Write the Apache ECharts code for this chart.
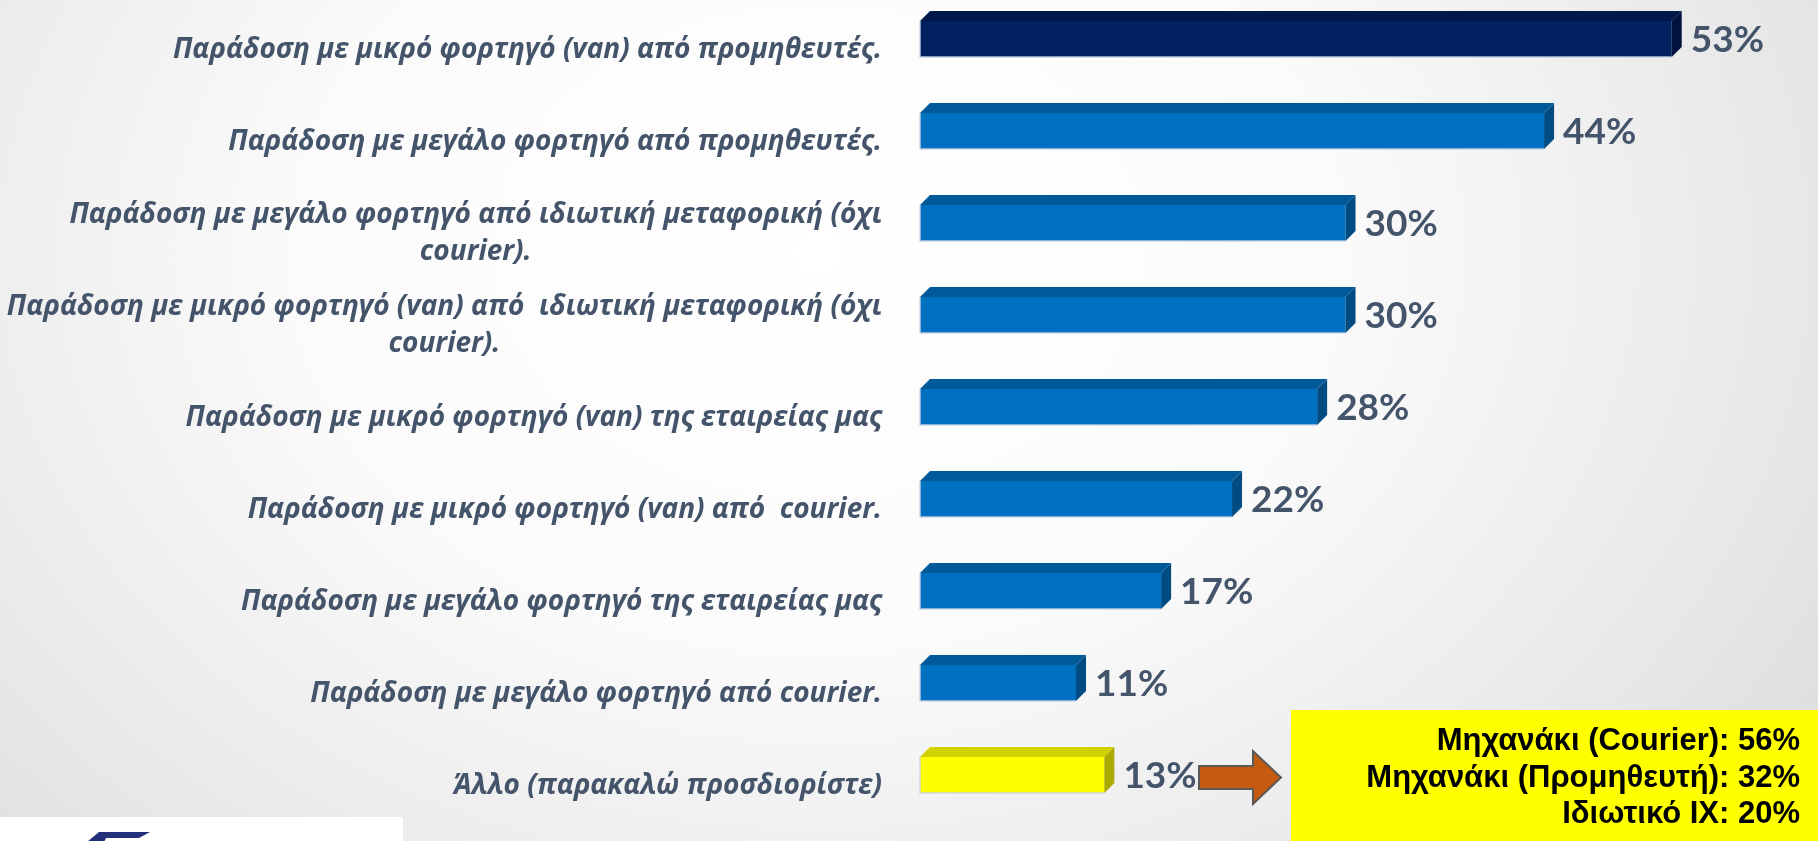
<!DOCTYPE html>
<html>
<head>
<meta charset="utf-8">
<title>Τρόποι παράδοσης</title>
<script src="https://cdn.jsdelivr.net/npm/echarts@6/dist/echarts.min.js"></script>
<style>
  html, body { margin: 0; padding: 0; }
  #chart {
    width: 1818px;
    height: 841px;
    background: radial-gradient(ellipse 70% 115% at 45% 30%, #ffffff 0%, #fbfbfb 40%, #e6e6e6 80%, #dadada 100%);
  }
</style>
</head>
<body>
<div id="chart"></div>
<script>
// categories, top to bottom
const categories = [
  'Παράδοση με μικρό φορτηγό (van) από προμηθευτές.',
  'Παράδοση με μεγάλο φορτηγό από προμηθευτές.',
  'Παράδοση με μεγάλο φορτηγό από ιδιωτική μεταφορική (όχι\ncourier).',
  'Παράδοση με μικρό φορτηγό (van) από  ιδιωτική μεταφορική (όχι\ncourier).',
  'Παράδοση με μικρό φορτηγό (van) της εταιρείας μας',
  'Παράδοση με μικρό φορτηγό (van) από  courier.',
  'Παράδοση με μεγάλο φορτηγό της εταιρείας μας',
  'Παράδοση με μεγάλο φορτηγό από courier.',
  'Άλλο (παρακαλώ προσδιορίστε)'
]
const values = [53, 44, 30, 30, 28, 22, 17, 11, 13]

// breakdown of "other" shown in the yellow note
const otherLines = [
  'Μηχανάκι (Courier): 56%',
  'Μηχανάκι (Προμηθευτή): 32%',
  'Ιδιωτικό ΙΧ: 20%'
]

const labelColor = '#44546A'
const navy = { front: '#002060', top: '#00184a', side: '#00133c' }
const blue = { front: '#0070C0', top: '#005a9a', side: '#004b82' }
const yellow = { front: '#FFFF00', top: '#d2d200', side: '#aaaa00' }

const BAR_H = 46 // whole bar incl. top face
const DEPTH = 10 // 3d depth

function renderBar(params, api) {
  const i = api.value(1)
  const v = api.value(0)
  const p0 = api.coord([0, i])
  const p1 = api.coord([v, i])
  const x0 = p0[0]
  const x1 = p1[0]
  const c = p0[1]
  const yTop = c - BAR_H / 2
  const yFront = yTop + DEPTH
  const yBot = c + BAR_H / 2
  let pal = blue
  if (i === 0) pal = navy
  if (i === values.length - 1) pal = yellow
  return {
    type: 'group',
    children: [
      {
        type: 'polygon',
        shape: { points: [[x0, yFront], [x0 + DEPTH, yTop], [x1 + DEPTH, yTop], [x1, yFront]] },
        style: { fill: pal.top }
      },
      {
        type: 'rect',
        shape: { x: x0, y: yFront, width: x1 - x0, height: yBot - yFront },
        style: { fill: pal.front }
      },
      {
        type: 'polyline',
        shape: { points: [[x0, yFront], [x0, yBot], [x1, yBot]] },
        style: { stroke: 'rgba(200,212,230,0.9)', lineWidth: 1.5, fill: null }
      },
      {
        type: 'polygon',
        shape: { points: [[x1, yFront], [x1 + DEPTH, yTop], [x1 + DEPTH, yBot - DEPTH], [x1, yBot]] },
        style: { fill: pal.side }
      },
      {
        type: 'text',
        style: {
          text: v + '%',
          x: x1 + 19,
          y: c + 6,
          fill: labelColor,
          font: 'bold 37px Lato, "Open Sans", sans-serif',
          align: 'left',
          verticalAlign: 'middle',
          textAlign: 'left',
          textVerticalAlign: 'middle'
        }
      }
    ]
  }
}

const chart = echarts.init(document.getElementById('chart'), null, { renderer: 'canvas' })

chart.setOption({
  backgroundColor: 'transparent',
  animation: false,
  grid: {
    left: 920,
    top: 34,
    bottom: 71,
    right: 47
  },
  xAxis: {
    type: 'value',
    min: 0,
    max: 60,
    show: false
  },
  yAxis: {
    type: 'category',
    inverse: true,
    boundaryGap: false,
    data: categories,
    axisLine: { show: false },
    axisTick: { show: false },
    splitLine: { show: false },
    axisLabel: {
      margin: 38,
      align: 'right',
      verticalAlign: 'middle',
      padding: [32, 0, 0, 0],
      formatter: function (val) {
        return val.split('\n').map(s => '{c|' + s + '}').join('\n')
      },
      rich: {
        c: {
          align: 'center',
          fontFamily: '"Open Sans", sans-serif',
          fontStyle: 'italic',
          fontWeight: 'bold',
          fontSize: 28,
          lineHeight: 37,
          color: labelColor
        }
      }
    }
  },
  series: [{
    type: 'custom',
    renderItem: renderBar,
    encode: { x: 0, y: 1 },
    data: values.map((v, i) => [v, i]),
    z: 2
  }],
  graphic: [
    {
      // yellow note box
      type: 'rect',
      shape: { x: 1291, y: 710, width: 530, height: 135 },
      style: { fill: '#FFFF00' },
      z: 10
    },
    {
      type: 'text',
      style: {
        text: otherLines.join('\n'),
        x: 1800,
        y: 778,
        font: 'bold 31px "Liberation Sans", Arial, sans-serif',
        fill: '#000000',
        lineHeight: 36.5,
        textAlign: 'right',
        textVerticalAlign: 'middle',
        align: 'right',
        verticalAlign: 'middle'
      },
      z: 11
    },
    {
      // arrow pointing to the note
      type: 'polygon',
      shape: { points: [[1199, 766], [1253, 766], [1253, 751], [1281, 777.5], [1253, 804], [1253, 789], [1199, 789]] },
      style: { fill: '#C55A11', stroke: '#595959', lineWidth: 2 },
      z: 10
    },
    {
      // logo corner
      type: 'rect',
      shape: { x: 0, y: 817, width: 403, height: 30 },
      style: { fill: '#ffffff' },
      z: 10
    },
    {
      type: 'polygon',
      shape: { points: [[99, 832], [150, 832], [139, 838], [106, 838], [104, 842], [87, 842]] },
      style: { fill: '#23307a' },
      z: 11
    }
  ]
})
</script>
</body>
</html>
